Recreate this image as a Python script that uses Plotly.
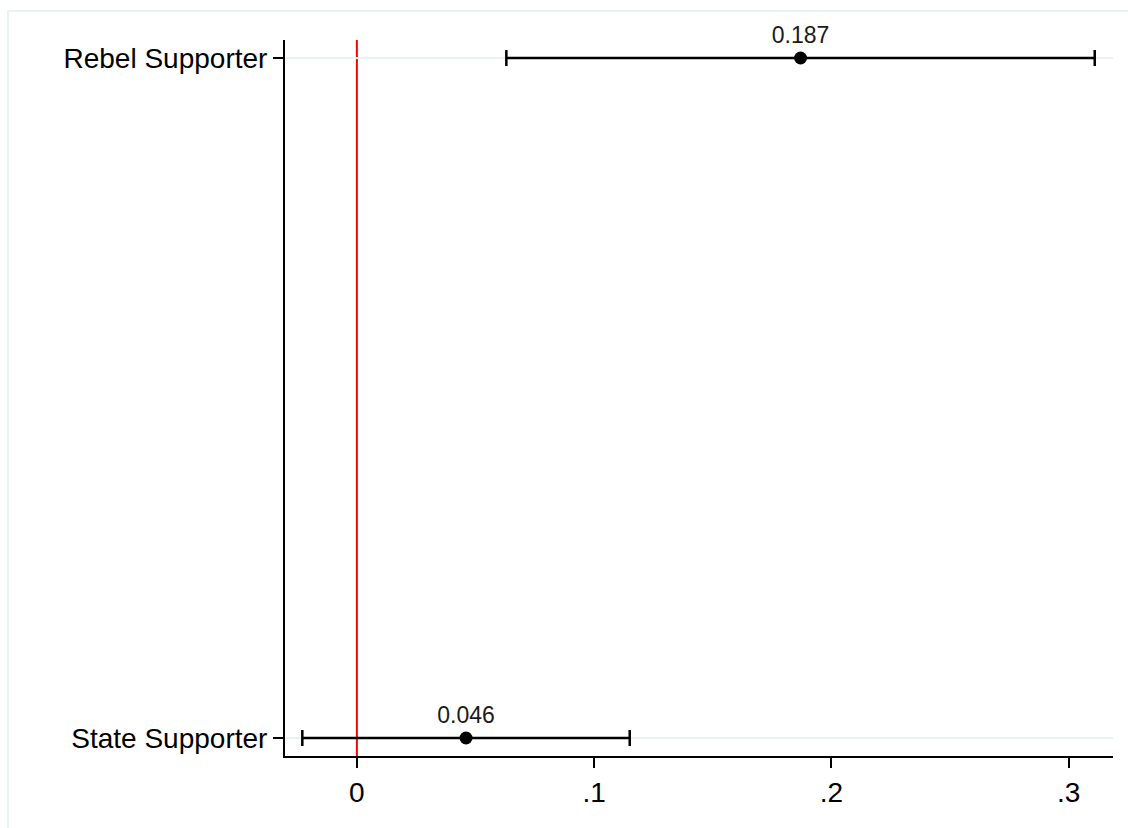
import plotly.graph_objects as go

categories = ["State Supporter", "Rebel Supporter"]
y_pos = [0, 1]
estimates = [0.046, 0.187]
ci_low = [-0.023, 0.063]
ci_high = [0.115, 0.311]
labels = ["0.046", "0.187"]
x_tickvals = [0, 0.1, 0.2, 0.3]
x_ticktext = ["0", ".1", ".2", ".3"]

err_plus = [h - e for h, e in zip(ci_high, estimates)]
err_minus = [e - l for e, l in zip(estimates, ci_low)]

fig = go.Figure()
fig.add_trace(go.Scatter(
    x=estimates, y=y_pos, mode="markers+text",
    text=labels, textposition="top center",
    textfont=dict(family="Liberation Sans, Arial", size=23, color="#1a1a1a"),
    marker=dict(color="black", size=13),
    error_x=dict(type="data", symmetric=False, array=err_plus, arrayminus=err_minus,
                 color="black", thickness=2.5, width=8),
    showlegend=False, cliponaxis=False,
))

fig.add_shape(type="line", xref="x", yref="paper", x0=0, x1=0, y0=0, y1=1,
              line=dict(color="red", width=2), layer="below")
# outer frame
fig.add_shape(type="rect", xref="paper", yref="paper", x0=-0.3345, x1=1.05, y0=-0.2, y1=1.0405,
              line=dict(color="#eaf2f3", width=2), layer="below")

fig.update_layout(
    width=1128, height=828,
    margin=dict(l=285, r=15, t=40, b=72),
    plot_bgcolor="white", paper_bgcolor="white",
    font=dict(family="Liberation Sans, Arial", color="black"),
    xaxis=dict(range=[-0.0303, 0.3187], tickvals=x_tickvals, ticktext=x_ticktext,
               showgrid=False, zeroline=False, showline=True, linecolor="black", linewidth=2,
               ticks="outside", ticklen=10, tickwidth=2, tickcolor="black",
               tickfont=dict(size=28)),
    yaxis=dict(range=[-0.0265, 1.0265], tickvals=y_pos, ticktext=categories,
               showgrid=True, gridcolor="#eaf2f3", gridwidth=2, zeroline=False,
               showline=True, linecolor="black", linewidth=2,
               ticks="outside", ticklen=10, tickwidth=2, tickcolor="black",
               tickfont=dict(size=28)),
)

fig.write_html("out.html")
